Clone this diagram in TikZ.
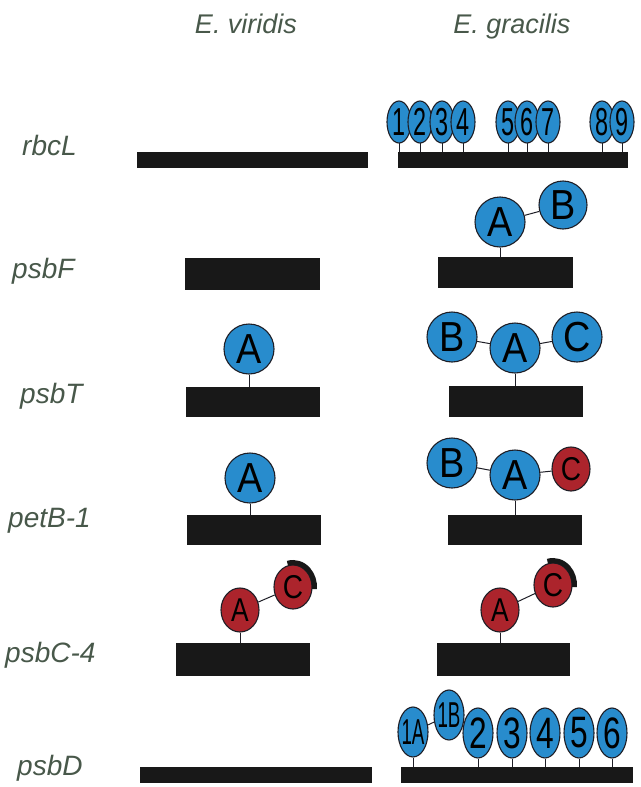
\documentclass[tikz,border=0pt]{standalone}
\usepackage{fontspec}
\usepackage{graphicx}
\setmainfont{Liberation Sans}
\usetikzlibrary{shapes.geometric}
\definecolor{cblue}{RGB}{40,140,205}
\definecolor{cred}{RGB}{172,36,44}
\definecolor{cbar}{RGB}{24,24,24}
\definecolor{ctext}{RGB}{72,88,74}
\definecolor{cline}{RGB}{30,30,38}
\newcommand{\nar}[2]{\scalebox{#1}[1]{#2}}
\tikzset{
  genebar/.style={rectangle,fill=cbar,draw=none,inner sep=0pt},
  bigc/.style={circle,fill=cblue,draw=cline,line width=1.1pt,inner sep=0pt,minimum size=50pt},
  redc/.style={ellipse,fill=cred,draw=cline,line width=1.1pt,inner sep=0pt,minimum width=38pt,minimum height=44pt},
  numc/.style={ellipse,fill=cblue,draw=cline,line width=1.1pt,inner sep=0pt,minimum width=24pt,minimum height=42pt},
  dnumc/.style={ellipse,fill=cblue,draw=cline,line width=1.1pt,inner sep=0pt,minimum width=30pt,minimum height=50pt},
  bigtxt/.style={font=\fontsize{42}{42}\selectfont},
  redtxt/.style={font=\fontsize{33}{33}\selectfont},
  numtxt/.style={font=\fontsize{39}{39}\selectfont},
  dnumtxt/.style={font=\fontsize{44}{44}\selectfont},
  stem/.style={draw=cline,line width=1pt},
  link/.style={draw=cline,line width=1pt},
  rowlab/.style={anchor=base west,inner sep=0pt,text=ctext,font=\fontsize{28}{28}\selectfont\itshape},
  titlelab/.style={anchor=base,inner sep=0pt,text=ctext,font=\fontsize{27}{27}\selectfont\itshape},
  capc/.style={draw=cbar,line width=5pt}
}
\begin{document}
\begin{tikzpicture}[x=1pt,y=-1pt]
\useasboundingbox (0,0) rectangle (640,787);
% titles
\node[titlelab] (t1) at (246,33) {E. viridis};
\node[titlelab] (t2) at (512,33) {E. gracilis};
% row labels
\node[rowlab] (l1) at (22,155) {rbcL};
\node[rowlab] (l2) at (12,278) {psbF};
\node[rowlab] (l3) at (20,403) {psbT};
\node[rowlab] (l4) at (8,527) {petB-1};
\node[rowlab] (l5) at (5,662) {psbC-4};
\node[rowlab] (l6) at (17,775) {psbD};
% bars
\node[genebar,minimum width=231pt,minimum height=16pt] (b1L) at (252.5,160) {};
\node[genebar,minimum width=230pt,minimum height=16pt] (b1R) at (513,160) {};
\node[genebar,minimum width=135pt,minimum height=32pt] (b2L) at (252.5,274) {};
\node[genebar,minimum width=135pt,minimum height=31pt] (b2R) at (505.5,272.5) {};
\node[genebar,minimum width=134pt,minimum height=30pt] (b3L) at (253,402) {};
\node[genebar,minimum width=134pt,minimum height=31pt] (b3R) at (516,401.5) {};
\node[genebar,minimum width=134pt,minimum height=30pt] (b4L) at (254,530) {};
\node[genebar,minimum width=134pt,minimum height=30pt] (b4R) at (515,530) {};
\node[genebar,minimum width=134pt,minimum height=33pt] (b5L) at (243,659.5) {};
\node[genebar,minimum width=133pt,minimum height=33pt] (b5R) at (503.5,659.5) {};
\node[genebar,minimum width=232pt,minimum height=16pt] (b6L) at (256,775) {};
\node[genebar,minimum width=232pt,minimum height=16pt] (b6R) at (517,775) {};
% rbcL E. gracilis
\foreach \n/\x in {1/399,2/420,3/442,4/463,5/508,6/527,7/548,8/602,9/622}{
  \draw[stem] (\x,140) -- (\x,152);
  \node[numc,label={[numtxt]center:\nar{0.6}{\n}}] (r\n) at (\x,122) {};
}
% psbF E. gracilis
\node[bigc,label={[bigtxt]center:\nar{0.9}{A}}] (fA) at (500,222) {};
\node[bigc,minimum size=48pt,label={[bigtxt]center:\nar{0.9}{B}}] (fB) at (563,205) {};
\draw[link] (fA) -- (fB);
\draw[stem] (fA.south) -- (fA.south |- b2R.north);
% psbT E. viridis
\node[bigc,label={[bigtxt]center:\nar{0.9}{A}}] (tA1) at (249,349) {};
\draw[stem] (tA1.south) -- (tA1.south |- b3L.north);
% psbT E. gracilis
\node[bigc,label={[bigtxt]center:\nar{0.9}{B}}] (tB) at (452,337) {};
\node[bigc,label={[bigtxt]center:\nar{0.9}{A}}] (tA) at (515,348) {};
\node[bigc,label={[bigtxt]center:\nar{0.9}{C}}] (tC) at (577,337) {};
\draw[link] (tB) -- (tA);
\draw[link] (tA) -- (tC);
\draw[stem] (tA.south) -- (tA.south |- b3R.north);
% petB-1 E. viridis
\node[bigc,label={[bigtxt]center:\nar{0.9}{A}}] (pA1) at (250,478) {};
\draw[stem] (pA1.south) -- (pA1.south |- b4L.north);
% petB-1 E. gracilis
\node[bigc,label={[bigtxt]center:\nar{0.9}{B}}] (pB) at (452,463) {};
\node[bigc,label={[bigtxt]center:\nar{0.9}{A}}] (pA) at (515,475) {};
\node[redc,label={[redtxt]center:\nar{0.85}{C}}] (pC) at (571,469) {};
\draw[link] (pB) -- (pA);
\draw[link] (pA) -- (pC);
\draw[stem] (pA.south) -- (pA.south |- b4R.north);
% psbC-4 E. viridis
\node[redc,label={[redtxt]center:\nar{0.8}{A}}] (cA1) at (240,610) {};
\node[redc,label={[redtxt]center:\nar{0.85}{C}}] (cC1) at (293,587) {};
\draw[link] (cA1) -- (cC1);
\draw[stem] (cA1.south) -- (cA1.south |- b5L.north);
\begin{scope}[shift={(cC1.center)}]
  \draw[capc] (105:21.5pt and 24.5pt) arc[start angle=105,end angle=-5,x radius=21.5pt,y radius=24.5pt];
\end{scope}
% psbC-4 E. gracilis
\node[redc,label={[redtxt]center:\nar{0.8}{A}}] (cA2) at (500,610) {};
\node[redc,label={[redtxt]center:\nar{0.85}{C}}] (cC2) at (553,585) {};
\draw[link] (cA2) -- (cC2);
\draw[stem] (cA2.south) -- (cA2.south |- b5R.north);
\begin{scope}[shift={(cC2.center)}]
  \draw[capc] (105:21.5pt and 24.5pt) arc[start angle=105,end angle=-5,x radius=21.5pt,y radius=24.5pt];
\end{scope}
% psbD E. gracilis
\node[dnumc,label={[font=\fontsize{36}{36}\selectfont]center:\nar{0.52}{1A}}] (d1A) at (413,732) {};
\node[dnumc,label={[font=\fontsize{36}{36}\selectfont]center:\nar{0.52}{1B}}] (d1B) at (449,715) {};
\draw[link] (d1A) -- (d1B);
\draw[stem] (d1A.south) -- (d1A.south |- b6R.north);
\foreach \n/\x in {2/478,3/512,4/545,5/579,6/612}{
  \node[dnumc,label={[dnumtxt]center:\nar{0.72}{\n}}] (d\n) at (\x,733) {};
  \draw[stem] (d\n.south) -- (d\n.south |- b6R.north);
}
\end{tikzpicture}
\end{document}
